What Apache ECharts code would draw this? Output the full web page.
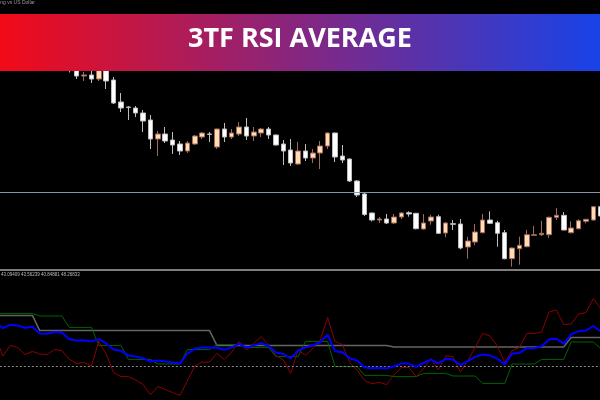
<!DOCTYPE html>
<html><head><meta charset="utf-8">
<script src="https://cdn.jsdelivr.net/npm/echarts@6/dist/echarts.min.js"></script>
<style>html,body{margin:0;padding:0;background:#000}#c{width:600px;height:400px}</style>
</head><body><div id="c"></div>
<script>
const opens = [1.2972,1.2966,1.2969,1.2962,1.2957,1.2960,1.2953,1.2948,1.2951,1.2944,
1.2938,1.2934,1.2924,1.2925,1.2921,1.2930,1.2920,1.2898,1.2893,1.2892,
1.2887,1.2880,1.2861,1.2866,1.2860,1.2856,1.2849,1.2856,1.2863,1.2866,
1.2853,1.2871,1.2863,1.2866,1.2873,1.2864,1.2867,1.2871,1.2865,1.2856,
1.2850,1.2836,1.2849,1.2842,1.2847,1.2854,1.2867,1.2844,1.2841,1.2819,
1.2806,1.2787,1.2780,1.2781,1.2777,1.2783,1.27873,1.27867,1.2771,1.2779,
1.27833,1.2767,1.27763,1.2776,1.2753,1.2758,1.27673,1.2780,1.27773,1.27673,
1.27413,1.27513,1.27533,1.27647,1.27653,1.27653,1.27827,1.27847,1.27673,1.27713,
1.27787,1.2780,1.27933];
const closes = [1.2966,1.2969,1.2962,1.2957,1.2960,1.2953,1.2948,1.2951,1.2944,1.2938,
1.2932,1.2924,1.2925,1.2921,1.2930,1.2919,1.2897,1.2892,1.28924,1.2887,
1.2879,1.2861,1.2866,1.2859,1.2855,1.2849,1.2857,1.2864,1.2867,1.28656,
1.2871,1.2863,1.2867,1.2873,1.2864,1.2868,1.2871,1.2865,1.2855,1.2849,
1.2837,1.2849,1.2842,1.2847,1.2854,1.2867,1.2843,1.2840,1.2819,1.2805,
1.27855,1.2780,1.2781,1.2777,1.2783,1.2787,1.2786,1.27713,1.2777,1.2783,
1.27667,1.2777,1.27757,1.2752,1.2759,1.2768,1.2780,1.27767,1.27667,1.27413,
1.2752,1.27547,1.27653,1.27653,1.27667,1.27827,1.27847,1.2770,1.2772,1.27793,
1.27807,1.27933,1.2784];
const lows = [1.2963,1.2962,1.2959,1.2954,1.2953,1.2950,1.2945,1.2944,1.2940,1.2935,
1.29275,1.2921,1.2919,1.2917,1.2919,1.2911,1.2896,1.2888,1.2880,1.2883,
1.2868,1.2851,1.2844,1.2857,1.2846,1.2845,1.2847,1.2855,1.2861,1.2858,
1.2851,1.2858,1.2861,1.2864,1.2860,1.2859,1.2863,1.2861,1.28545,1.2835,
1.2834,1.2835,1.2839,1.2837,1.2831,1.2851,1.2838,1.2837,1.2818,1.2803,
1.2784,1.27785,1.2777,1.2776,1.2776,1.2781,1.27833,1.27707,1.27705,1.27753,
1.2766,1.27627,1.2770,1.27507,1.27413,1.27547,1.27667,1.2776,1.27533,1.27407,
1.27333,1.27353,1.27527,1.2764,1.2764,1.2762,1.2780,1.27697,1.27667,1.27707,
1.27767,1.27793,1.2783];
const highs = [1.2976,1.2971,1.2971,1.2964,1.2962,1.2962,1.2956,1.2953,1.2953,1.2947,
1.2942,1.2937,1.2928,1.2931,1.2933,1.2933,1.2923,1.2907,1.2894,1.2894,
1.2890,1.2885,1.2869,1.2873,1.2868,1.2859,1.2859,1.2865,1.2868,1.2868,
1.28713,1.2877,1.2871,1.2878,1.2882,1.2873,1.2872,1.2873,1.28655,1.2860,
1.2861,1.2858,1.2856,1.2851,1.2859,1.28675,1.28675,1.2855,1.28415,1.2820,
1.2807,1.27875,1.2783,1.2786,1.2786,1.2788,1.27887,1.2787,1.2786,1.27853,
1.27853,1.2778,1.2780,1.2781,1.27633,1.2776,1.2786,1.27887,1.27793,1.2770,
1.27525,1.27633,1.2770,1.2774,1.27793,1.27833,1.2792,1.2788,1.27787,1.27807,
1.2781,1.2794,1.2795];

const rsiGray = [75.3,75.3,75.3,75.3,75.3,75.3,
67.7,67.7,67.7,67.7,67.7,67.7,67.7,67.7,67.7,67.7,67.7,67.7,67.7,67.7,67.7,67.7,67.7,67.7,67.7,67.7,67.7,67.7,67.7,67.7,
60.3,60.3,60.3,60.3,60.3,60.3,60.3,60.3,60.3,60.3,60.3,60.3,60.3,60.3,60.3,60.3,60.3,60.3,60.3,60.3,60.3,60.3,60.3,60.3,
59.5,59.5,59.5,59.5,59.5,59.5,59.5,59.5,59.5,59.5,59.5,59.5,59.5,59.5,59.5,59.5,59.5,59.5,59.5,59.5,59.5,59.5,59.5,59.5,
64.3,64.3,64.3,64.3,64.3];
const rsiGreen = [76.3,76.3,76.3,76.3,76.3,76.3,75,75,75,75,
69.3,69.3,69.3,69.3,60.3,60.3,60.3,60.3,53.3,53.3,53.3,53.3,51,51,51,51,
58.2,58.2,58.2,58.2,60.7,60.7,60.7,60.7,59.3,59.3,59.3,59.3,54.7,54.7,54.7,54.7,
62.3,62.3,62.3,62.3,49.7,49.7,49.7,49.7,45.3,45.3,45.3,45.3,44.7,44.7,44.7,44.7,
46.3,46.3,46.3,46.3,45,45,45,45,41.3,41.3,41.3,41.3,51,51,51,51,
53.3,53.3,53.3,53.3,62,62,62,62,58.8];
const rsiRed = [64.7,55,60.3,59.3,55.7,57.3,56,55.7,58.3,57.7,
53.3,51.3,51.7,50,62.3,56,46.7,44.7,44.7,43,
40.7,35.7,39.7,38.3,36.7,35.3,42.7,50,52,52,
56.3,53.3,57,62.3,58,61.3,64.7,60.5,55.3,53,
46.3,58,55.3,58.7,63,74.3,62.3,60.7,51.7,48,
42.7,41.2,41.8,40.7,45.5,49.3,49.3,44.7,48.7,53.7,
48,55,54.7,47,52.7,59.3,66.3,65,60,51.7,
57.7,59.3,66.3,66.3,67,77,78,70.7,71,76,
76.7,83.7,78.8];
const rsiBlue = [72.1,68.9,70.6,70.3,69.1,69.6,66.2,66.1,67,66.8,
63.4,62.8,62.9,62.3,63.4,61.3,58.2,57.6,55.2,54.7,
53.9,52.2,52.8,52.3,51.8,51.3,56.2,58.6,59.3,59.3,
59.1,58.1,59.3,61.1,59.2,60.3,61.4,60.0,56.8,56.0,
53.8,57.7,59.3,60.4,61.9,65.6,57.4,56.9,53.9,52.7,
49.4,48.9,49.1,48.8,49.9,51.2,51.2,49.6,51.5,53.2,
51.3,53.6,53.1,50.5,52.4,54.6,55.7,55.3,53.6,50.8,
56.1,56.6,58.9,58.9,59.9,63.3,63.6,61.2,65.8,67.4,
67.7,70,67.3];

const bars = opens.map((_, i) => 'H' + i);
const levelPrice = 1.2808;
const levelRsi = 50;
const title = '3TF RSI AVERAGE';
const symbolText = 'Great Britain Pound Sterling vs US Dollar';
const valuesText = '43.09409 43.56239 40.84881 48.26833';

const chart = echarts.init(document.getElementById('c'));
const LEFT = -8.19, BAR = 7.38;
const W = bars.length * BAR;
const ohlc = bars.map((_, i) => [opens[i], closes[i], lows[i], highs[i]]);
function rsiLine(name, data, color, width, z) {
  return {name, type: 'line', xAxisIndex: 1, yAxisIndex: 1, data, symbol: 'none',
    lineStyle: {color, width}, z, silent: true};
}
chart.setOption({
  backgroundColor: '#000',
  animation: false,
  grid: [
    {left: LEFT, top: 0, width: W, height: 268, outerBoundsMode: 'none', containLabel: false},
    {left: LEFT, top: 266, width: W, height: 200, outerBoundsMode: 'none', containLabel: false}
  ],
  xAxis: [
    {type: 'category', data: bars, gridIndex: 0, show: false},
    {type: 'category', data: bars, gridIndex: 1, show: false}
  ],
  yAxis: [
    {type: 'value', gridIndex: 0, min: 1.2732, max: 1.3, show: false},
    {type: 'value', gridIndex: 1, min: 0, max: 100, show: false}
  ],
  series: [
    {type: 'candlestick', data: ohlc, barWidth: 5, silent: true,
      itemStyle: {color: '#ffdcb4', color0: '#ffffff', borderColor: '#a06a5a', borderColor0: '#bdbdbd', borderWidth: 1},
      markLine: {silent: true, symbol: 'none', precision: 5, label: {show: false},
        lineStyle: {color: '#8496a6', width: 1, type: 'solid'},
        data: [{yAxis: levelPrice}]}
    },
    Object.assign(rsiLine('gray', rsiGray, '#646464', 1.5, 2), {
      markLine: {silent: true, symbol: 'none', precision: 2, label: {show: false},
        lineStyle: {color: '#8a8a8a', width: 1, type: [2, 2]},
        data: [{yAxis: levelRsi}]}
    }),
    rsiLine('green', rsiGreen, '#006400', 1, 3),
    rsiLine('red', rsiRed, '#8b0000', 1, 4),
    rsiLine('blue', rsiBlue, '#0000ff', 2, 5)
  ],
  graphic: [
    {type: 'rect', z: 100, shape: {x: 0, y: 14, width: 600, height: 57},
      style: {fill: new echarts.graphic.LinearGradient(0, 0, 1, 0, [
        {offset: 0, color: '#f20a18'}, {offset: 1, color: '#1843e8'}])}},
    {type: 'text', z: 101, x: 300, y: 39,
      style: {text: title, fill: '#ffffff', font: 'bold 27px "Open Sans"', align: 'center', verticalAlign: 'middle'}},
    {type: 'rect', z: 100, shape: {x: 0, y: 269, width: 600, height: 2}, style: {fill: '#7d7d7d'}},
    {type: 'text', z: 101, x: 35, y: 0,
      style: {text: symbolText, fill: '#9a9a9a', font: '5px "Liberation Sans"', align: 'right', verticalAlign: 'top'}},
    {type: 'text', z: 101, x: 1, y: 272.5,
      style: {text: valuesText, fill: '#bdbdbd', font: '4.5px "Liberation Sans"', verticalAlign: 'top'}}
  ]
});
</script></body></html>
